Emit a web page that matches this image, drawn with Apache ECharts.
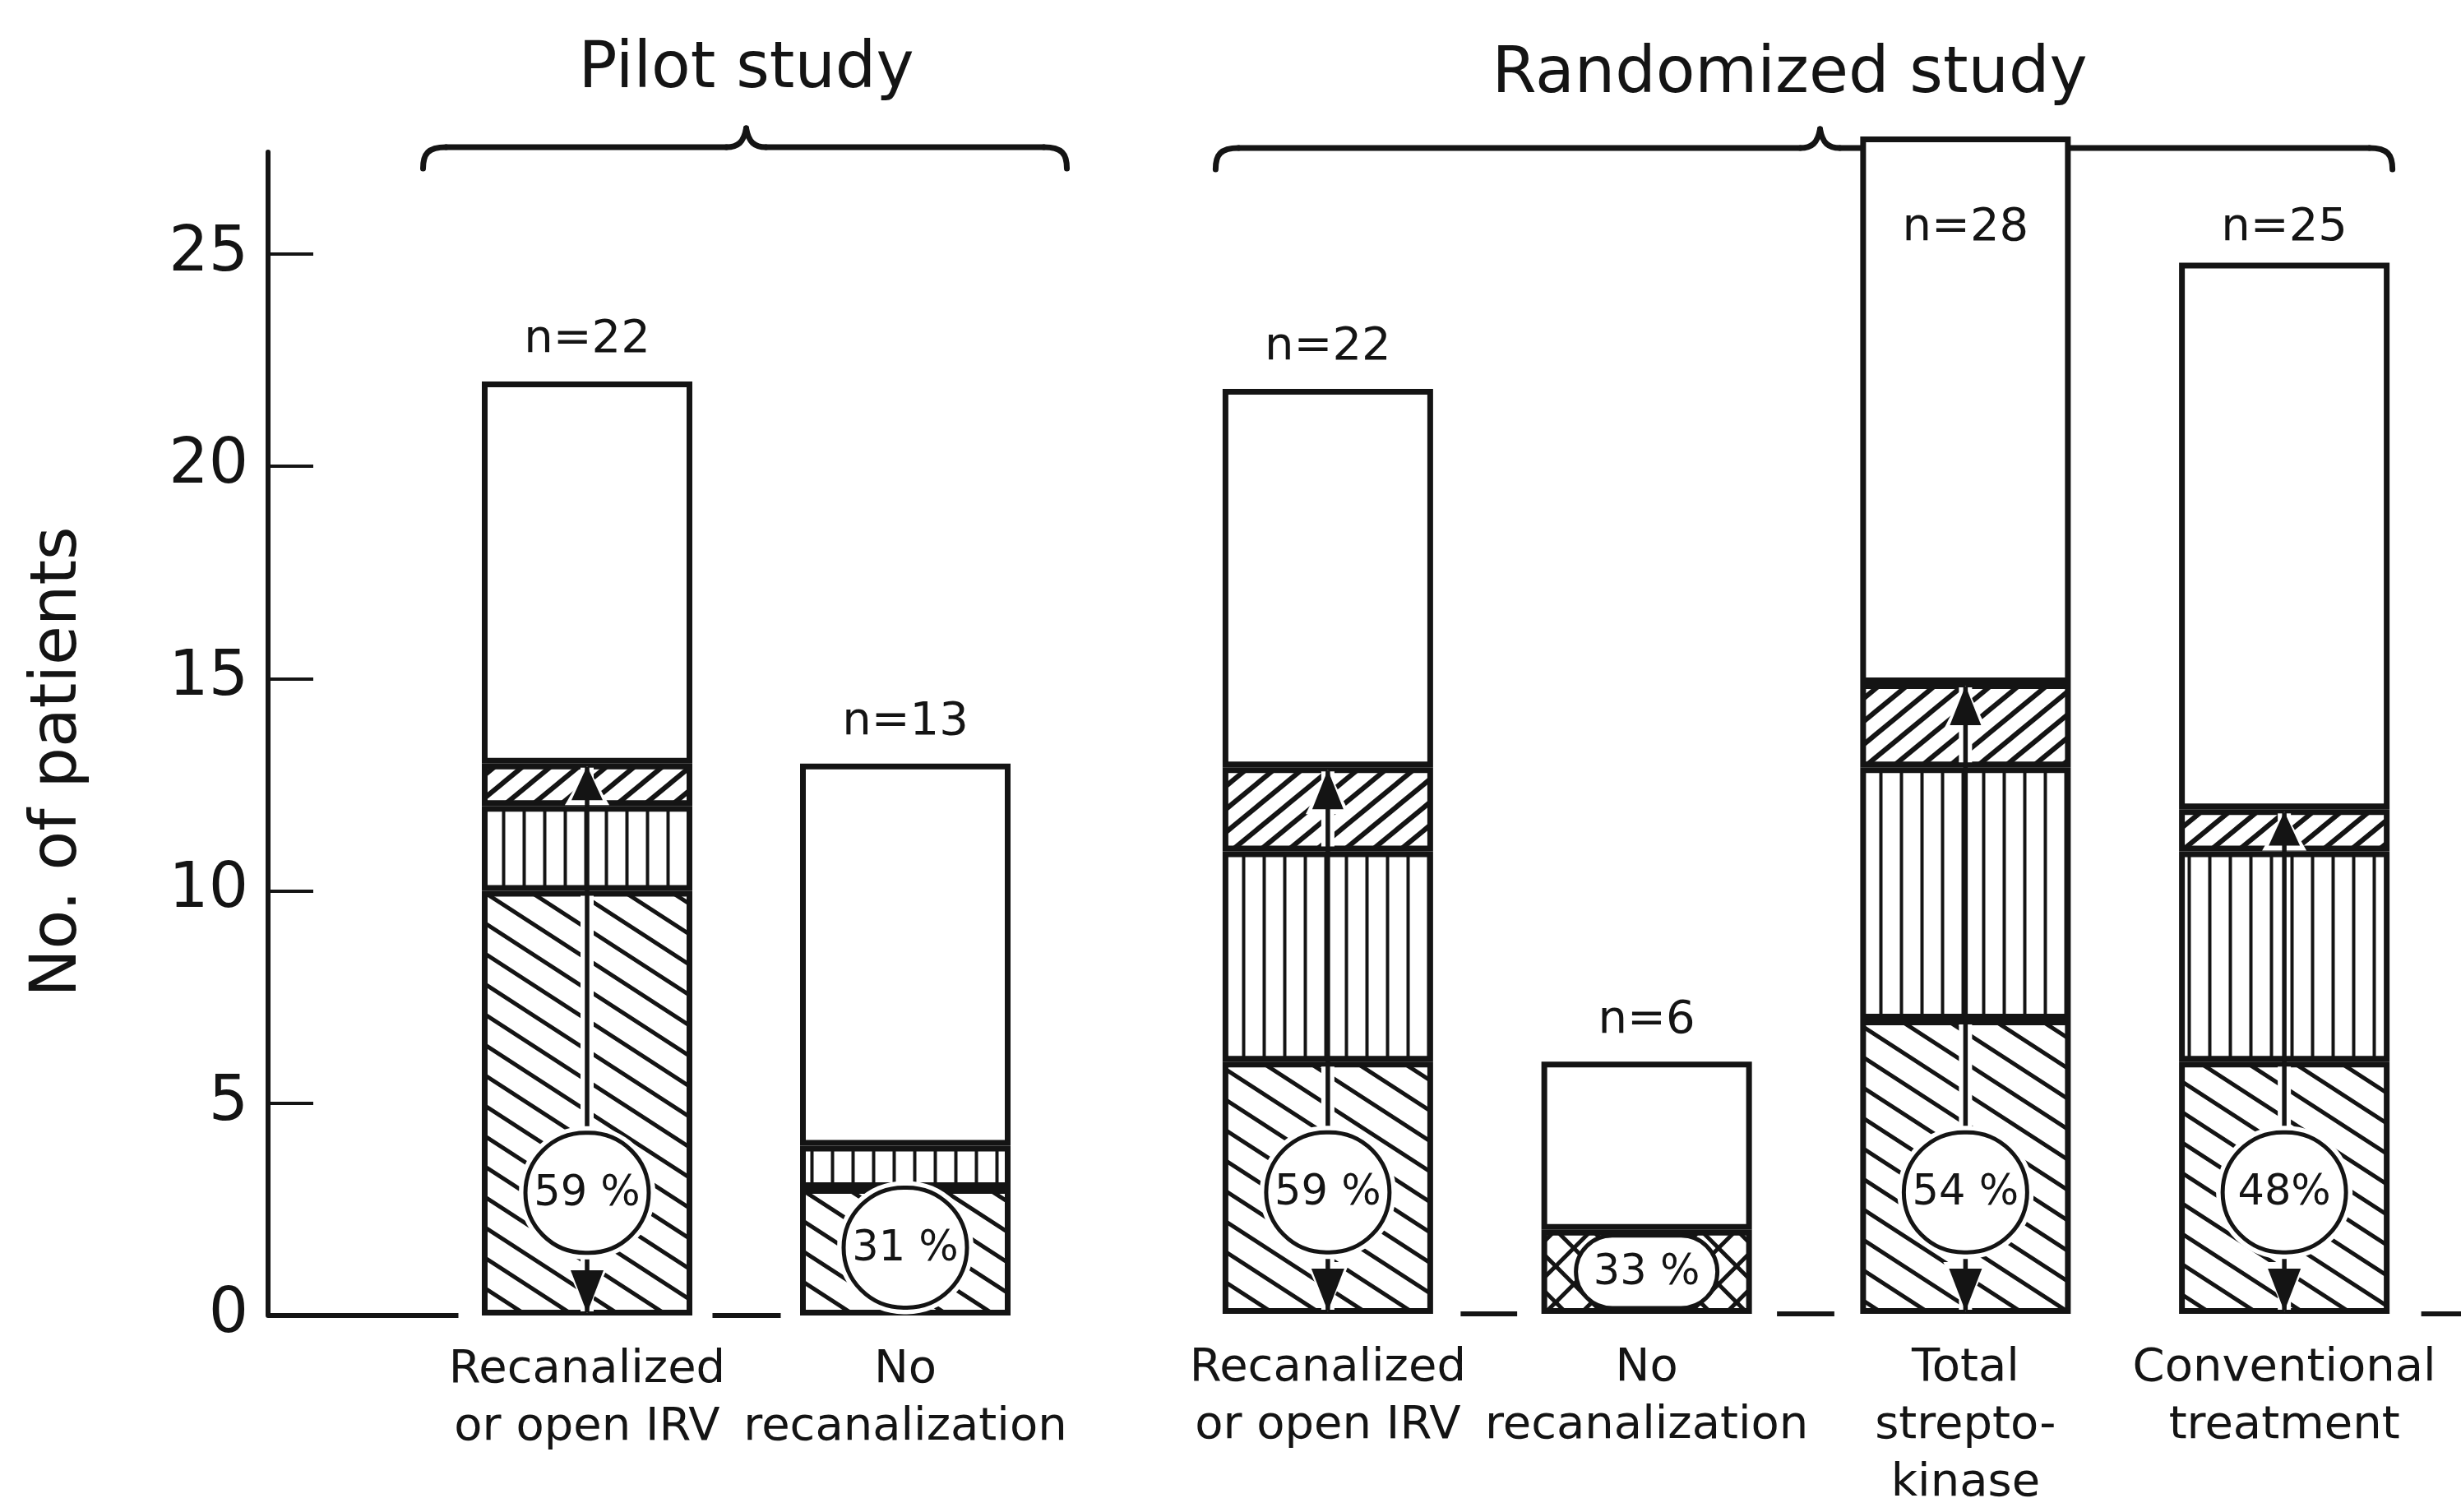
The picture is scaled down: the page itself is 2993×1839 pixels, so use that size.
<!DOCTYPE html>
<html><head><meta charset="utf-8">
<script src="https://cdn.jsdelivr.net/npm/echarts@6/dist/echarts.min.js"></script>
<style>html,body{margin:0;padding:0;background:#fff}#chart{width:2993px;height:1839px}</style>
</head><body><div id="chart"></div>
<script>
// ---------------- data ----------------
const categories = ['Recanalized\nor open IRV', 'No\nrecanalization', 'Recanalized\nor open IRV', 'No\nrecanalization', 'Total\nstrepto-\nkinase', 'Conventional\ntreatment'];
const groupNames = ['Pilot study', 'Randomized study'];
const groupMembers = [[0, 1], [2, 3, 4, 5]];
const backHatch    = [10, 3, 6, 0, 7, 6];   // "\\\" segment (bottom)
const crossHatch   = [0, 0, 0, 2, 0, 0];    // cross-hatched segment (bottom)
const verticalBars = [2, 1, 5, 0, 6, 5];    // vertical-line segment
const forwardHatch = [1, 0, 2, 0, 2, 1];    // "///" segment
const openPart     = [9, 9, 9, 4, 13, 13];  // white (top) segment
const percentLabels = ['59 %', '31 %', '59 %', '33 %', '54 %', '48%'];
const yTicks = [0, 5, 10, 15, 20, 25];
const yMax = 27.4;        // top of the drawn y axis
const yMaxHidden = 30;    // extent of the (hidden) axis of the right-hand group

// ---------------- derived ----------------
const colored = categories.map((_, i) => backHatch[i] + crossHatch[i] + verticalBars[i] + forwardHatch[i]);
const totals = categories.map((_, i) => colored[i] + openPart[i]);

// ---------------- styles ----------------
const FONT = '"DejaVu Sans", "Liberation Sans", sans-serif';
const INK = '#141414';
const W = 2993, H = 1839;
const AXIS_X = 326;
const UNIT = 51.64;
const BASE1 = 1600, BASE2 = 1613;
const GRID1 = {left: 520.5, right: W - 1294.5, top: BASE1 - yMax * UNIT, bottom: H - BASE1};
const GRID2 = {left: 1421, right: 21, top: BASE2 - yMaxHidden * UNIT, bottom: H - BASE2};
const BAR_W = 256, BORDER = 7;

function makePattern(kind) {
  const c = document.createElement('canvas');
  const dims = {back: [57, 37], fwd: [34, 28], vert: [25, 25], cross: [44, 44]}[kind];
  const w = dims[0], h = dims[1];
  c.width = w; c.height = h;
  const ctx = c.getContext('2d');
  ctx.fillStyle = '#fff'; ctx.fillRect(0, 0, w, h);
  ctx.strokeStyle = INK;
  const down = lw => { ctx.lineWidth = lw; for (let k = -1; k <= 1; k++) { ctx.beginPath(); ctx.moveTo(-w, -h + k * h); ctx.lineTo(2 * w, 2 * h + k * h); ctx.stroke(); } };
  const up = lw => { ctx.lineWidth = lw; for (let k = -1; k <= 1; k++) { ctx.beginPath(); ctx.moveTo(-w, 2 * h + k * h); ctx.lineTo(2 * w, -h + k * h); ctx.stroke(); } };
  if (kind === 'back') down(5);
  if (kind === 'fwd') up(6);
  if (kind === 'cross') { down(5); up(5); }
  if (kind === 'vert') { ctx.lineWidth = 4; ctx.beginPath(); ctx.moveTo(w / 2, 0); ctx.lineTo(w / 2, h); ctx.stroke(); }
  return {image: c, repeat: 'repeat'};
}

const segDefs = [
  {name: 'back', values: backHatch, fill: makePattern('back')},
  {name: 'cross', values: crossHatch, fill: makePattern('cross')},
  {name: 'vertical', values: verticalBars, fill: makePattern('vert')},
  {name: 'forward', values: forwardHatch, fill: makePattern('fwd')},
  {name: 'open', values: openPart, fill: '#ffffff'}
];

function makeRender(idx) {
  return function (params, api) {
    const i = idx[params.dataIndex];
    const k = api.value(0);
    const b = api.coord([k, 0]);
    const cx = b[0], y0 = b[1];
    const yBack = api.coord([k, backHatch[i] + crossHatch[i]])[1];
    const yVert = api.coord([k, backHatch[i] + crossHatch[i] + verticalBars[i]])[1];
    const yTop = api.coord([k, colored[i]])[1];
    const yTotal = api.coord([k, totals[i]])[1];
    const coloredPx = y0 - yTop;
    const kids = [];
    if (coloredPx > 400) {
      kids.push({type: 'rect', shape: {x: cx - 8, y: yBack + 6, width: 16, height: (y0 - 5) - (yBack + 6)}, style: {fill: '#fff'}});
      if (yVert - yTop > 14) kids.push({type: 'rect', shape: {x: cx - 8, y: yTop + 5, width: 16, height: (yVert - 6) - (yTop + 5)}, style: {fill: '#fff'}});
      const ahUp = Math.min(48, yVert - yTop - 10);
      kids.push({type: 'polygon', shape: {points: [[cx - 27, yTop + 3 + ahUp + 6], [cx + 27, yTop + 3 + ahUp + 6], [cx, yTop + 3]]}, style: {fill: '#fff'}});
      const ahDn = 52;
      kids.push({type: 'polygon', shape: {points: [[cx - 27, y0 - 3 - ahDn - 8], [cx + 27, y0 - 3 - ahDn - 8], [cx, y0 - 3]]}, style: {fill: '#fff'}});
      kids.push({type: 'line', shape: {x1: cx, y1: y0 - 4, x2: cx, y2: yTop + 4}, style: {stroke: INK, lineWidth: 5.5}});
      kids.push({type: 'polygon', shape: {points: [[cx - 19, yTop + 3 + ahUp], [cx + 19, yTop + 3 + ahUp], [cx, yTop + 3]]}, style: {fill: INK}});
      kids.push({type: 'polygon', shape: {points: [[cx - 20, y0 - 3 - ahDn], [cx + 20, y0 - 3 - ahDn], [cx, y0 - 3]]}, style: {fill: INK}});
    }
    let bx, by, bw, bh;
    const round = coloredPx > 2 * 73 + 40;
    if (round) {
      const cv = Math.min(2.89, colored[i] * 0.4);
      by = api.coord([k, cv])[1]; bw = 150; bh = 146;
    } else {
      by = (y0 + yTop) / 2; bw = 172; bh = coloredPx - 14;
    }
    bx = cx;
    if (round) {
      kids.push({type: 'rect', shape: {x: bx - bw / 2 - 8, y: by - bh / 2 - 8, width: bw + 16, height: bh + 16, r: (bh + 16) / 2}, style: {fill: '#fff'}});
    }
    kids.push({type: 'rect', shape: {x: bx - bw / 2, y: by - bh / 2, width: bw, height: bh, r: bh / 2}, style: {fill: '#fff', stroke: INK, lineWidth: 5}});
    kids.push({type: 'text', style: {text: percentLabels[i], x: bx, y: by + 2, align: 'center', verticalAlign: 'middle', font: '51px ' + FONT, fill: INK}});
    kids.push({type: 'text', style: {text: 'n=' + totals[i], x: cx, y: Math.max(yTotal - 50, 277), align: 'center', verticalAlign: 'middle', font: '56px ' + FONT, fill: INK}});
    return {type: 'group', children: kids};
  };
}

const series = [];
groupMembers.forEach((idx, g) => {
  segDefs.forEach(s => {
    series.push({
      type: 'bar', name: s.name, xAxisIndex: g, yAxisIndex: g, stack: 'g' + g,
      barWidth: BAR_W, silent: true,
      data: idx.map(i => s.values[i] === 0 ? '-' : s.values[i]),
      itemStyle: {color: s.fill, borderColor: INK, borderWidth: BORDER},
      emphasis: {disabled: true}
    });
  });
  series.push({
    type: 'custom', xAxisIndex: g, yAxisIndex: g, z: 5, silent: true,
    renderItem: makeRender(idx),
    data: idx.map((i, k) => [k, colored[i], totals[i]])
  });
});

const xAxisBase = (g) => ({
  type: 'category', gridIndex: g,
  data: groupMembers[g].map(i => categories[i]),
  axisLine: {show: false}, axisTick: {show: false},
  axisLabel: {interval: 0, margin: 31, fontFamily: FONT, fontSize: 56, lineHeight: 70, color: INK}
});

const option = {
  backgroundColor: '#ffffff',
  animation: false,
  grid: [GRID1, GRID2],
  xAxis: [xAxisBase(0), xAxisBase(1)],
  yAxis: [
    {
      type: 'value', gridIndex: 0, min: 0, max: yMax, interval: 5,
      offset: GRID1.left - AXIS_X,
      name: 'No. of patients', nameLocation: 'middle', nameGap: 215,
      nameTextStyle: {fontFamily: FONT, fontSize: 78, color: INK, padding: [0, 68, 0, 0]},
      axisLine: {show: true, lineStyle: {color: INK, width: 6}},
      axisTick: {show: true, inside: true, length: 55, customValues: yTicks, lineStyle: {color: INK, width: 4}},
      axisLabel: {customValues: yTicks, margin: 24, fontFamily: FONT, fontSize: 76, color: INK},
      splitLine: {show: false}
    },
    {
      type: 'value', gridIndex: 1, min: 0, max: yMaxHidden, interval: 5, show: false,
      splitLine: {show: false}
    }
  ],
  series: series
};

const chart = echarts.init(document.getElementById('chart'), null, {renderer: 'canvas', width: W, height: H});
chart.setOption(option);

// ---------- annotations (brackets, group titles, broken baseline) ----------
const P = (g, k, v) => chart.convertToPixel({gridIndex: g}, [k, v]);
const HALF = (BAR_W + BORDER) / 2;
const barBox = [];
groupMembers.forEach((idx, g) => idx.forEach((i, k) => {
  const p = P(g, k, 0);
  barBox[i] = {c: p[0], l: p[0] - HALF, r: p[0] + HALF, y: p[1]};
}));

const graphics = [];
const LINE_STYLE = (w) => ({stroke: INK, lineWidth: w, fill: null, lineCap: 'round'});
const dash = (x1, x2, y) => graphics.push({type: 'line', z: 1, shape: {x1: x1, y1: y, x2: x2, y2: y}, style: {stroke: INK, lineWidth: 6}});
dash(AXIS_X, barBox[0].l - 25, barBox[0].y);
dash(barBox[0].r + 21, barBox[1].l - 20, barBox[1].y);
dash(barBox[2].r + 30, barBox[3].l - 26, barBox[3].y);
dash(barBox[3].r + 27, barBox[4].l - 28, barBox[4].y);
dash(barBox[5].r + 35, W, barBox[5].y);

function addBracket(L, R, Pk, y) {
  const st = LINE_STYLE(7);
  const bez = (x1, y1, c1x, c1y, c2x, c2y, x2, y2) => graphics.push({type: 'bezierCurve', z: 0,
    shape: {x1: x1, y1: y1, cpx1: c1x, cpy1: c1y, cpx2: c2x, cpy2: c2y, x2: x2, y2: y2}, style: st});
  const seg = (x1, x2) => graphics.push({type: 'line', z: 0, shape: {x1: x1, y1: y, x2: x2, y2: y}, style: st});
  bez(L, y + 26, L, y + 8, L + 6, y, L + 28, y);
  seg(L + 28, Pk - 24);
  bez(Pk - 24, y, Pk - 10, y, Pk - 3, y - 6, Pk, y - 23);
  bez(Pk, y - 23, Pk + 3, y - 6, Pk + 10, y, Pk + 24, y);
  seg(Pk + 24, R - 28);
  bez(R - 28, y, R - 6, y, R, y + 8, R, y + 26);
}
const bracketSpec = [
  {L: barBox[0].l - 68, R: barBox[1].r + 65, peakShift: 0, y: 179, titleShift: 0, titleY: 86},
  {L: barBox[2].l - 5, R: barBox[5].r, peakShift: 17, y: 180, titleShift: -20, titleY: 92}
];
groupMembers.forEach((idx, g) => {
  const s = bracketSpec[g];
  const mid = (barBox[idx[0]].c + barBox[idx[idx.length - 1]].c) / 2;
  addBracket(s.L, s.R, mid + s.peakShift, s.y);
  graphics.push({type: 'text', z: 1, style: {text: groupNames[g], x: mid + s.titleShift, y: s.titleY, align: 'center', verticalAlign: 'middle', font: '78px ' + FONT, fill: INK}});
});
chart.setOption({graphic: {elements: graphics}});
</script>
</body></html>
